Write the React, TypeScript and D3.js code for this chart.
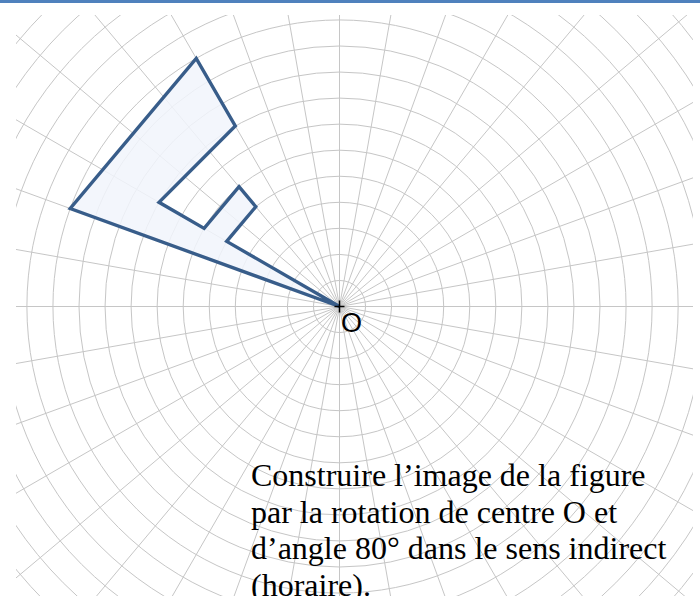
import React from "react";
import * as d3 from "d3";

// Figure vertices in polar coordinates (radius in grid units, angle in degrees, counter-clockwise from east)
const figureRadii = [0, 11, 11, 8, 8, 6, 6, 5, 5];
const figureAngles = [0, 160, 120, 120, 150, 150, 130, 130, 150];

// Grid definition
const circleSteps = d3.range(1, 18);
const rayAngles = d3.range(0, 360, 10);

const centerLabel = "O";
const instructionLines = [
  "Construire l\u2019image de la figure",
  "par la rotation de centre O et",
  "d\u2019angle 80\u00b0 dans le sens indirect",
  "(horaire).",
];

const W = 700;
const H = 596;
const CX = 339.5;
const CY = 306.5;
const UNIT = 26.05;

export default function App() {
  const r = d3.scaleLinear().domain([0, 1]).range([0, UNIT]);
  const toXY = (rad: number, deg: number): [number, number] => {
    const a = (deg * Math.PI) / 180;
    return [CX + r(rad) * Math.cos(a), CY - r(rad) * Math.sin(a)];
  };
  const pts = figureRadii.map((rr, i) => toXY(rr, figureAngles[i]));
  const line = d3.line().curve(d3.curveLinearClosed);
  const maxR = 20;

  return (
    <div style={{ position: "fixed", left: 0, top: 0, width: W, height: H, background: "#fff" }}>
      <svg width={W} height={H} style={{ display: "block" }}>
        <defs>
          <clipPath id="gridClip">
            <rect x={16} y={15} width={677} height={H} />
          </clipPath>
        </defs>
        <rect x={0} y={0} width={W} height={3} fill="#4f81bd" />
        <g clipPath="url(#gridClip)" fill="none" stroke="#c6c6c6" strokeWidth={1}>
          {circleSteps.map((k) => (
            <circle key={k} cx={CX} cy={CY} r={r(k)} />
          ))}
          {rayAngles.map((a) => {
            const [x, y] = toXY(maxR, a);
            return <line key={a} x1={CX} y1={CY} x2={x} y2={y} />;
          })}
        </g>
        <path
          d={line(pts) || ""}
          fill="#f1f5fb"
          fillOpacity={0.85}
          stroke="#385d8a"
          strokeWidth={3.4}
          strokeLinejoin="miter"
        />
        <g stroke="#000" strokeWidth={1.5}>
          <line x1={CX - 5} y1={CY} x2={CX + 5} y2={CY} />
          <line x1={CX} y1={CY - 6} x2={CX} y2={CY + 6} />
        </g>
        <text x={341} y={332} fontFamily="Liberation Sans, Arial, sans-serif" fontSize={27} fill="#000">
          {centerLabel}
        </text>
        <g fontFamily="Liberation Serif, 'Times New Roman', serif" fontSize={32} fill="#000">
          {instructionLines.map((t, i) => (
            <text key={i} x={251} y={486 + i * 36.5}>
              {t}
            </text>
          ))}
        </g>
      </svg>
    </div>
  );
}
